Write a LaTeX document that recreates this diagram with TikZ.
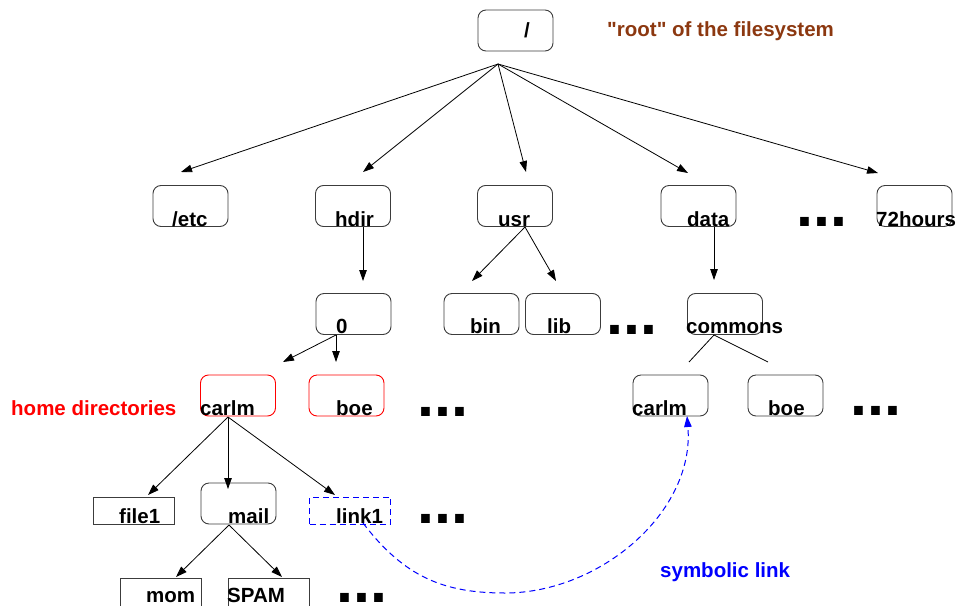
\documentclass[tikz,border=0pt]{standalone}
\usepackage{fontspec}
\setmainfont{Liberation Sans}[Ligatures=TeXOff]
\usetikzlibrary{arrows.meta}
\definecolor{rootbrown}{RGB}{140,56,16}
\definecolor{boxline}{RGB}{60,60,60}
\tikzset{
  rbox/.style={draw=boxline, rounded corners=8pt, line width=0.9pt, minimum width=75pt, minimum height=41pt, inner sep=0pt},
  sbox/.style={draw=boxline, line width=0.9pt, minimum width=81pt, minimum height=27pt, inner sep=0pt},
  lbl/.style={anchor=base west, inner sep=0pt, font=\fontsize{20.5}{24}\selectfont\bfseries},
  dotrow/.style={anchor=base west, inner sep=0pt, text depth=0pt, text height=9pt, font=\fontsize{61}{61}\selectfont\bfseries},
  arr/.style={-{Triangle[length=11pt,width=7.5pt]}, line width=0.8pt},
  plain/.style={line width=0.8pt},
  symlink/.style={blue, line width=1pt, dash pattern=on 6pt off 4pt, -{Triangle[length=11pt,width=7.5pt]}}
}
\begin{document}
\begin{tikzpicture}[x=1pt,y=-1pt]
\useasboundingbox (0,0) rectangle (960,605);
\clip (0,0) rectangle (960,605);
% boxes
\node[rbox] (root) at (515.5,30.5) {};
\node[rbox] (etc) at (190.5,206) {};
\node[rbox] (hdir) at (353,206) {};
\node[rbox] (usr) at (515,206) {};
\node[rbox] (data) at (698.5,206) {};
\node[rbox] (h72) at (914.5,206) {};
\node[rbox] (zero) at (353.5,314) {};
\node[rbox] (bin) at (481.5,314) {};
\node[rbox] (lib) at (563,314) {};
\node[rbox] (commons) at (725,314) {};
\node[rbox, draw=red] (carlm) at (238,395.5) {};
\node[rbox, draw=red] (boe) at (346.5,395.5) {};
\node[rbox] (carlmb) at (670.5,395.5) {};
\node[rbox] (boeb) at (785.5,395.5) {};
\node[sbox] (file1) at (133.5,510.5) {};
\node[rbox] (mail) at (238.5,503.5) {};
\node[sbox, draw=blue, dash pattern=on 6pt off 4pt] (link1) at (350,510.5) {};
\node[sbox, minimum height=40pt] (mom) at (160.5,598) {};
\node[sbox, minimum height=40pt] (spam) at (268.5,598) {};
% labels
\node[lbl] (rootT) at (524,37) {/};
\node[lbl, text=rootbrown] (rootNote) at (607,36) {"root" of the filesystem};
\node[lbl] (etcT) at (172,226) {/etc};
\node[lbl] (hdirT) at (335,226) {hdir};
\node[lbl] (usrT) at (498,226) {usr};
\node[lbl] (dataT) at (687,226) {data};
\node[lbl] (h72T) at (876,226) {72hours};
\node[lbl] (zeroT) at (336,333) {0};
\node[lbl] (binT) at (470,333) {bin};
\node[lbl] (libT) at (547,333) {lib};
\node[lbl] (commonsT) at (686,333) {commons};
\node[lbl, text=red] (homeT) at (11,415) {home directories};
\node[lbl] (carlmT) at (200,415) {carlm};
\node[lbl] (boeT) at (336,415) {boe};
\node[lbl] (carlmbT) at (632,415) {carlm};
\node[lbl] (boebT) at (768,415) {boe};
\node[lbl] (file1T) at (119,523) {file1};
\node[lbl] (mailT) at (228,523) {mail};
\node[lbl] (link1T) at (336,523) {link1};
\node[lbl] (momT) at (146,602) {mom};
\node[lbl] (spamT) at (227,602) {SPAM};
\node[lbl, text=blue] (symT) at (660,577) {symbolic link};
% dots
\node[dotrow] (d1) at (796,226) {...};
\node[dotrow] (d2) at (606,334) {...};
\node[dotrow] (d3) at (417,416) {...};
\node[dotrow] (d4) at (850,415) {...};
\node[dotrow] (d5) at (417,523) {...};
\node[dotrow] (d6) at (336,602) {...};
% fan points and arrow ends
\coordinate (rootF) at (498,64);
\coordinate (etcIn) at (181,172);
\coordinate (hdirIn) at (363,172);
\coordinate (usrIn) at (526,172);
\coordinate (dataIn) at (688,173);
\coordinate (h72In) at (878,173);
\coordinate (hdirF) at (363,227);
\coordinate (zeroIn) at (363,281);
\coordinate (usrF) at (525,227);
\coordinate (binIn) at (472,281);
\coordinate (libIn) at (556,281);
\coordinate (dataF) at (714,227);
\coordinate (commonsIn) at (714,280);
\coordinate (zeroF) at (336,335);
\coordinate (carlmIn) at (283,362);
\coordinate (boeIn) at (336,362);
\coordinate (commonsF) at (714,335);
\coordinate (carlmbIn) at (689,362);
\coordinate (boebIn) at (768,362);
\coordinate (carlmF) at (228,417);
\coordinate (file1In) at (148,495);
\coordinate (mailIn) at (228,489);
\coordinate (link1In) at (335,495);
\coordinate (mailF) at (229,525);
\coordinate (momIn) at (176,577);
\coordinate (spamIn) at (282,577);
\coordinate (linkS) at (363,523);
\coordinate (linkE) at (687,416);
% connectors
\foreach \t in {etcIn,hdirIn,usrIn,dataIn,h72In} \draw[arr] (rootF) -- (\t);
\draw[arr] (hdirF) -- (zeroIn);
\draw[arr] (usrF) -- (binIn);
\draw[arr] (usrF) -- (libIn);
\draw[arr] (dataF) -- (commonsIn);
\draw[arr] (zeroF) -- (carlmIn);
\draw[arr] (zeroF) -- (boeIn);
\draw[plain] (commonsF) -- (carlmbIn);
\draw[plain] (commonsF) -- (boebIn);
\draw[arr] (carlmF) -- (file1In);
\draw[arr] (carlmF) -- (mailIn);
\draw[arr] (carlmF) -- (link1In);
\draw[arr] (mailF) -- (momIn);
\draw[arr] (mailF) -- (spamIn);
\draw[symlink] (linkS) .. controls (405,578) and (445,593) .. (505,593) .. controls (600,593) and (695,512) .. (linkE);
\end{tikzpicture}
\end{document}
